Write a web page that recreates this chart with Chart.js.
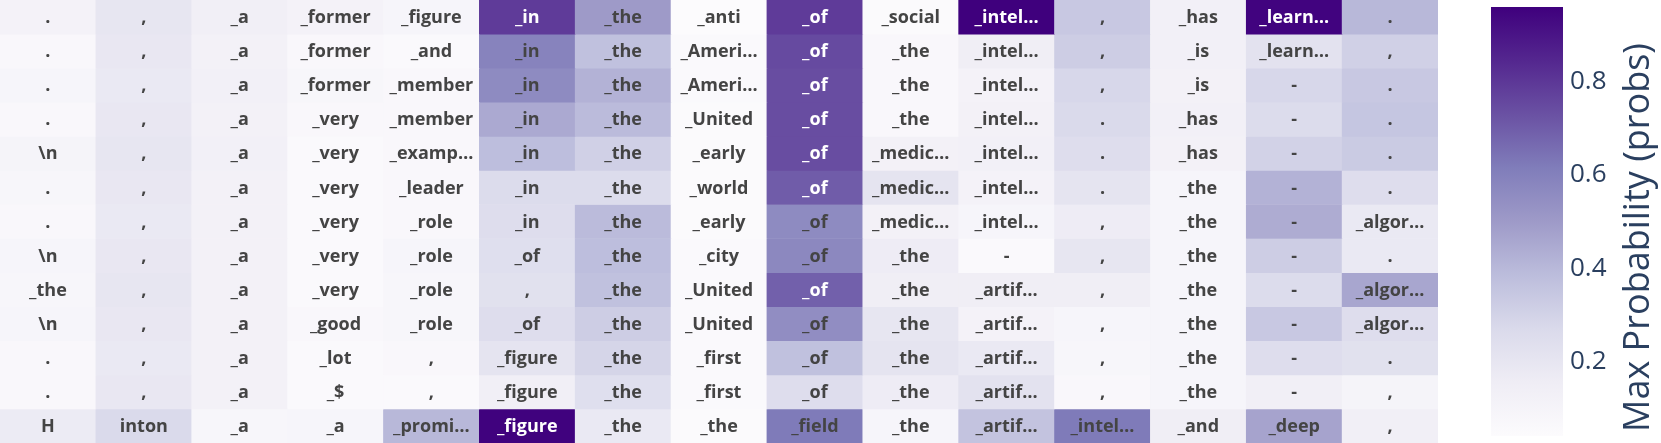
<!DOCTYPE html>
<html>
<head>
<meta charset="utf-8">
<script src="https://cdn.jsdelivr.net/npm/chart.js@4.4.1/dist/chart.umd.min.js"></script>
<style>
  html, body { margin: 0; padding: 0; background: #ffffff; overflow: hidden; }
  #wrap { position: relative; width: 1661px; height: 443px; }
  #heat { position: absolute; left: 0; top: 0; }
  #cbar { position: absolute; left: 1440px; top: 0; }
</style>
</head>
<body>
<div id="wrap">
  <canvas id="heat" width="1438" height="443"></canvas>
  <canvas id="cbar" width="221" height="443"></canvas>
</div>
<script>
// ---- DATA ----
const positions = ["0","1","2","3","4","5","6","7","8","9","10","11","12","13","14"];
const layers = ["0","1","2","3","4","5","6","7","8","9","10","11","12"];

const topTokens = [
  [".", ",", "_a", "_former", "_figure", "_in", "_the", "_anti", "_of", "_social", "_intel…", ",", "_has", "_learn…", "."],
  [".", ",", "_a", "_former", "_and", "_in", "_the", "_Ameri…", "_of", "_the", "_intel…", ",", "_is", "_learn…", ","],
  [".", ",", "_a", "_former", "_member", "_in", "_the", "_Ameri…", "_of", "_the", "_intel…", ",", "_is", "-", "."],
  [".", ",", "_a", "_very", "_member", "_in", "_the", "_United", "_of", "_the", "_intel…", ".", "_has", "-", "."],
  ["\\n", ",", "_a", "_very", "_examp…", "_in", "_the", "_early", "_of", "_medic…", "_intel…", ".", "_has", "-", "."],
  [".", ",", "_a", "_very", "_leader", "_in", "_the", "_world", "_of", "_medic…", "_intel…", ".", "_the", "-", "."],
  [".", ",", "_a", "_very", "_role", "_in", "_the", "_early", "_of", "_medic…", "_intel…", ",", "_the", "-", "_algor…"],
  ["\\n", ",", "_a", "_very", "_role", "_of", "_the", "_city", "_of", "_the", "-", ",", "_the", "-", "."],
  ["_the", ",", "_a", "_very", "_role", ",", "_the", "_United", "_of", "_the", "_artif…", ",", "_the", "-", "_algor…"],
  ["\\n", ",", "_a", "_good", "_role", "_of", "_the", "_United", "_of", "_the", "_artif…", ",", "_the", "-", "_algor…"],
  [".", ",", "_a", "_lot", ",", "_figure", "_the", "_first", "_of", "_the", "_artif…", ",", "_the", "-", "."],
  [".", ",", "_a", "_$", ",", "_figure", "_the", "_first", "_of", "_the", "_artif…", ",", "_the", "-", ","],
  ["H", "inton", "_a", "_a", "_promi…", "_figure", "_the", "_the", "_field", "_the", "_artif…", "_intel…", "_and", "_deep", ","]
];

const maxProbs = [
  [0.11, 0.20, 0.14, 0.11, 0.09, 0.79, 0.50, 0.04, 0.79, 0.05, 0.96, 0.34, 0.13, 0.95, 0.40],
  [0.07, 0.19, 0.12, 0.07, 0.06, 0.59, 0.37, 0.06, 0.75, 0.07, 0.15, 0.32, 0.13, 0.22, 0.31],
  [0.09, 0.18, 0.13, 0.08, 0.07, 0.56, 0.42, 0.06, 0.74, 0.07, 0.11, 0.28, 0.12, 0.28, 0.34],
  [0.07, 0.19, 0.12, 0.07, 0.07, 0.45, 0.39, 0.05, 0.74, 0.07, 0.12, 0.27, 0.13, 0.26, 0.35],
  [0.10, 0.20, 0.13, 0.06, 0.07, 0.38, 0.31, 0.05, 0.74, 0.12, 0.13, 0.25, 0.12, 0.30, 0.33],
  [0.08, 0.19, 0.12, 0.06, 0.07, 0.26, 0.26, 0.05, 0.70, 0.21, 0.11, 0.21, 0.09, 0.42, 0.25],
  [0.07, 0.18, 0.12, 0.06, 0.07, 0.25, 0.39, 0.05, 0.56, 0.12, 0.09, 0.16, 0.09, 0.44, 0.18],
  [0.09, 0.19, 0.12, 0.06, 0.09, 0.24, 0.38, 0.06, 0.57, 0.16, 0.06, 0.20, 0.09, 0.32, 0.18],
  [0.08, 0.20, 0.12, 0.06, 0.08, 0.23, 0.37, 0.06, 0.69, 0.15, 0.15, 0.15, 0.09, 0.26, 0.46],
  [0.09, 0.19, 0.12, 0.07, 0.08, 0.25, 0.32, 0.06, 0.55, 0.20, 0.11, 0.09, 0.09, 0.34, 0.25],
  [0.07, 0.18, 0.12, 0.06, 0.07, 0.21, 0.29, 0.06, 0.37, 0.21, 0.18, 0.08, 0.09, 0.25, 0.23],
  [0.07, 0.19, 0.12, 0.06, 0.06, 0.14, 0.24, 0.06, 0.25, 0.16, 0.22, 0.07, 0.09, 0.14, 0.10],
  [0.17, 0.27, 0.08, 0.09, 0.40, 0.955, 0.18, 0.05, 0.62, 0.09, 0.36, 0.62, 0.15, 0.47, 0.14]
];

const colorbarTicks = [0.2, 0.4, 0.6, 0.8];
const colorbarTitle = "Max Probability (probs)";

// ---- COLOUR SCALE (Purples) ----
const purples = [
  [0.000, [252, 251, 253]],
  [0.125, [239, 237, 245]],
  [0.250, [218, 218, 235]],
  [0.375, [188, 189, 220]],
  [0.500, [158, 154, 200]],
  [0.625, [128, 125, 186]],
  [0.750, [106, 81, 163]],
  [0.875, [84, 39, 143]],
  [1.000, [63, 0, 125]]
];
const allVals = maxProbs.flat();
const zmin = Math.min(...allVals);
const zmax = Math.max(...allVals);

function rgbAt(t) {
  t = Math.max(0, Math.min(1, t));
  for (let i = 1; i < purples.length; i++) {
    if (t <= purples[i][0]) {
      const [t0, c0] = purples[i - 1];
      const [t1, c1] = purples[i];
      const f = (t - t0) / (t1 - t0);
      return c0.map((c, k) => Math.round(c + (c1[k] - c) * f));
    }
  }
  return purples[purples.length - 1][1];
}
function colorFor(v) {
  const c = rgbAt((v - zmin) / (zmax - zmin));
  return `rgb(${c[0]},${c[1]},${c[2]})`;
}
function textColorFor(v) {
  const c = rgbAt((v - zmin) / (zmax - zmin));
  const b = (c[0] * 299 + c[1] * 587 + c[2] * 114) / 1000;
  return b < 128 ? "#ffffff" : "#444444";
}

// ---- HEATMAP (floating bars, one dataset per row) ----
const nRows = layers.length;
const datasets = layers.map((layer, r) => ({
  label: "layer " + layer,
  data: positions.map(() => [nRows - 1 - r, nRows - r]),
  backgroundColor: maxProbs[r].map(colorFor),
  borderWidth: 0,
  barPercentage: 1,
  categoryPercentage: 1,
  grouped: false
}));

const cellText = {
  id: "cellText",
  afterDatasetsDraw(chart) {
    const ctx = chart.ctx;
    ctx.save();
    ctx.font = 'bold 18px "Open Sans", "Noto Sans", sans-serif';
    ctx.textAlign = "center";
    ctx.textBaseline = "middle";
    chart.data.datasets.forEach((ds, r) => {
      const meta = chart.getDatasetMeta(r);
      meta.data.forEach((el, c) => {
        const cy = (el.y + el.base) / 2;
        ctx.fillStyle = textColorFor(maxProbs[r][c]);
        ctx.fillText(topTokens[r][c], el.x, cy + 1);
      });
    });
    ctx.restore();
  }
};

new Chart(document.getElementById("heat"), {
  type: "bar",
  data: { labels: positions, datasets },
  options: {
    responsive: false,
    animation: false,
    events: [],
    layout: { padding: 0 },
    plugins: { legend: { display: false }, tooltip: { enabled: false } },
    scales: {
      x: { display: false, offset: true },
      y: { display: false, min: 0, max: nRows }
    }
  },
  plugins: [cellText]
});

// ---- COLOUR BAR ----
const cbTitlePlugin = {
  id: "cbTitle",
  afterDraw(chart) {
    const ctx = chart.ctx;
    const area = chart.chartArea;
    ctx.save();
    ctx.font = '36px "Open Sans", "Noto Sans", sans-serif';
    ctx.fillStyle = "#2a3f5f";
    ctx.textAlign = "center";
    ctx.textBaseline = "middle";
    ctx.translate(199, (area.top + area.bottom) / 2 + 16);
    ctx.rotate(-Math.PI / 2);
    ctx.fillText(colorbarTitle, 0, 0);
    ctx.restore();
  }
};

new Chart(document.getElementById("cbar"), {
  type: "bar",
  data: {
    labels: ["colorbar"],
    datasets: [{
      data: [[zmin, zmax]],
      barPercentage: 1,
      categoryPercentage: 1,
      borderWidth: 0,
      backgroundColor(ctx) {
        const area = ctx.chart.chartArea;
        if (!area) return "#ccc";
        const g = ctx.chart.ctx.createLinearGradient(0, area.bottom, 0, area.top);
        purples.forEach(([t, c]) => g.addColorStop(t, `rgb(${c[0]},${c[1]},${c[2]})`));
        return g;
      }
    }]
  },
  options: {
    responsive: false,
    animation: false,
    events: [],
    layout: { padding: { left: 51, right: 53, top: 7, bottom: 7 } },
    plugins: { legend: { display: false }, tooltip: { enabled: false } },
    scales: {
      x: { display: false },
      y: {
        position: "right",
        min: zmin,
        max: zmax,
        border: { display: false },
        grid: { display: false, drawTicks: false },
        afterBuildTicks(scale) { scale.ticks = colorbarTicks.map(v => ({ value: v })); },
        afterFit(scale) {
          scale.width = 45;
          scale.paddingTop = 0;
          scale.paddingBottom = 0;
        },
        ticks: {
          padding: 7,
          color: "#2a3f5f",
          font: { family: '"Open Sans", "Noto Sans", sans-serif', size: 26 },
          callback: v => v.toFixed(1)
        }
      }
    }
  },
  plugins: [cbTitlePlugin]
});
</script>
</body>
</html>
